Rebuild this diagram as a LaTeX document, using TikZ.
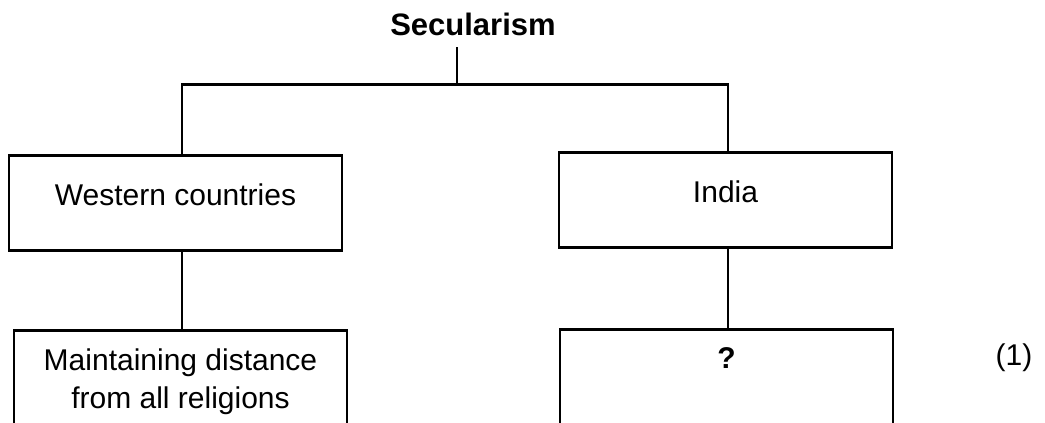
\documentclass[tikz,border=0pt]{standalone}
\usepackage{fontspec}
\setmainfont{Liberation Sans}
\usepackage{tikz}
\usetikzlibrary{positioning}

\begin{document}
\begin{tikzpicture}[
    x=0.5pt, y=-0.5pt,
    title/.style={font=\fontsize{15.5}{19}\selectfont\bfseries, inner sep=0pt},
    catbox/.style={draw, rectangle, line width=1.35pt, minimum width=166.5pt, anchor=north,
        inner ysep=14pt, text height=11pt, text depth=8.6pt, font=\fontsize{15}{19}\selectfont},
    leafbox/.style={draw, rectangle, line width=1.35pt, minimum width=166.5pt, anchor=north,
        align=center, inner ysep=9pt, text depth=70pt, font=\fontsize{15}{19}\selectfont},
    marks/.style={font=\fontsize{15}{19}\selectfont, inner sep=0pt},
    link/.style={line width=1.35pt}
    ]
    \clip (0,0) rectangle (1045,423);

    \node[title] (sec) at (473, 24) {Secularism};

    \coordinate (stemtop) at (457, 47);
    \coordinate (fork) at (457, 84.5);
    \coordinate (jl) at (182, 84.5);
    \coordinate (jr) at (728, 84.5);

    \node[catbox] (wc) at (175.5, 154) {Western countries};
    \node[catbox] (ind) at (725.5, 151) {India};

    \node[leafbox] (wd) at (180.5, 329) {Maintaining distance\\from all religions};
    \node[leafbox, font=\fontsize{15}{19}\selectfont\bfseries] (iq) at (726.5, 328) {?};
    \node[marks] (mk) at (1014, 358) {(1)};

    % tree connectors
    \draw[link] (stemtop) -- (fork);
    \draw[link] (wc.north -| jl) -- (jl) -- (jr) -- (ind.north -| jr);
    \draw[link] (wc.south -| jl) -- (wd.north -| jl);
    \draw[link] (ind.south -| jr) -- (iq.north -| jr);
\end{tikzpicture}
\end{document}
